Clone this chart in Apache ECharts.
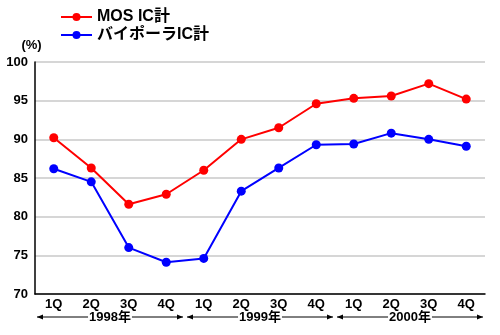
<!DOCTYPE html>
<html><head><meta charset="utf-8">
<script src="https://cdn.jsdelivr.net/npm/echarts@6/dist/echarts.min.js"></script>
<style>html,body{margin:0;padding:0;background:#fff}#c{width:500px;height:335px}</style>
</head><body><div id="c"></div>
<script>
const quarters = ['1Q','2Q','3Q','4Q','1Q','2Q','3Q','4Q','1Q','2Q','3Q','4Q'];
const years = ['1998年','1999年','2000年'];
const mosIC = [90.2, 86.3, 81.6, 82.9, 86.0, 90.0, 91.5, 94.6, 95.3, 95.6, 97.2, 95.2];
const bipolarIC = [86.2, 84.5, 76.0, 74.1, 74.6, 83.3, 86.3, 89.3, 89.4, 90.8, 90.0, 89.1];
const seriesNames = ['MOS IC計', 'バイポーラIC計'];
const yTicks = {min: 70, max: 100, interval: 5};

const FONT = '"Liberation Sans", Arial, "Noto Sans CJK JP", sans-serif';
const chart = echarts.init(document.getElementById('c'));
const lineSeries = (name, data, color) => ({
  name, type: 'line', data, symbol: 'circle', symbolSize: 9,
  lineStyle: {color, width: 2}, itemStyle: {color}, animation: false
});
chart.setOption({
  animation: false,
  textStyle: {fontFamily: FONT},
  grid: {left: 35, right: 15, top: 62, bottom: 41, containLabel: false},
  legend: {
    orient: 'vertical', left: 55, top: 4, itemGap: 2, itemWidth: 31, itemHeight: 10,
    textStyle: {fontFamily: FONT, fontWeight: 'bold', fontSize: 16, color: '#000'},
    data: seriesNames
  },
  xAxis: [{
    type: 'category', data: quarters, boundaryGap: true,
    axisLine: {lineStyle: {color: '#000', width: 1.5}},
    axisTick: {inside: true, length: 6, interval: 0, lineStyle: {color: '#000'}},
    axisLabel: {fontFamily: FONT, fontWeight: 'bold', fontSize: 13, color: '#000', margin: 4, interval: 0}
  }],
  yAxis: {
    type: 'value', min: yTicks.min, max: yTicks.max, interval: yTicks.interval,
    name: '(%)', nameLocation: 'end', nameGap: 10,
    nameTextStyle: {fontFamily: FONT, fontWeight: 'bold', fontSize: 13, color: '#000', align: 'center', padding: [0, 7, 0, 0]},
    axisLine: {show: true, lineStyle: {color: '#000', width: 1.5}},
    axisTick: {show: false},
    splitLine: {lineStyle: {color: '#c8c8c8', width: 1.5}},
    axisLabel: {fontFamily: FONT, fontWeight: 'bold', fontSize: 13, color: '#000', margin: 7}
  },
  series: [
    lineSeries(seriesNames[0], mosIC, '#ff0000'),
    lineSeries(seriesNames[1], bipolarIC, '#0000ff')
  ]
});

// Year brackets below the quarter labels, positioned from the category axis
function drawYears() {
  const els = [];
  const yPix = chart.convertToPixel({gridIndex: 0}, [0, yTicks.min])[1] + 23;
  years.forEach((yr, i) => {
    const a = chart.convertToPixel({xAxisIndex: 0}, i * 4);
    const b = chart.convertToPixel({xAxisIndex: 0}, i * 4 + 3);
    const half = (chart.convertToPixel({xAxisIndex: 0}, 1) - chart.convertToPixel({xAxisIndex: 0}, 0)) / 2;
    const x0 = a - half + 2, x1 = b + half - 2;
    els.push({type: 'line', shape: {x1: x0, y1: yPix, x2: x1, y2: yPix}, style: {stroke: '#000', lineWidth: 1}});
    els.push({type: 'polygon', shape: {points: [[x0, yPix], [x0 + 6, yPix - 2.5], [x0 + 6, yPix + 2.5]]}, style: {fill: '#000'}});
    els.push({type: 'polygon', shape: {points: [[x1, yPix], [x1 - 6, yPix - 2.5], [x1 - 6, yPix + 2.5]]}, style: {fill: '#000'}});
    els.push({type: 'text', x: (x0 + x1) / 2, y: yPix, style: {
      text: yr, font: 'bold 13px ' + FONT, fill: '#000', align: 'center', verticalAlign: 'middle',
      backgroundColor: '#fff', padding: [0, 1]
    }});
  });
  chart.setOption({graphic: els});
}
drawYears();
</script></body></html>
